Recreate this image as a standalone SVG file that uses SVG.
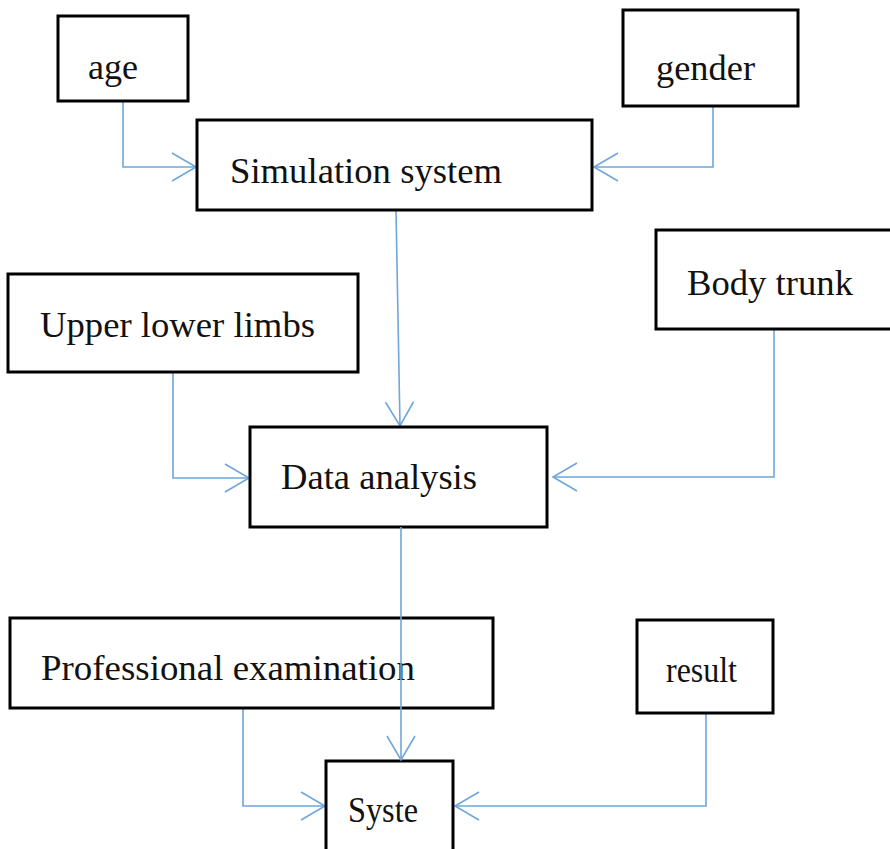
<svg xmlns="http://www.w3.org/2000/svg" width="890" height="849" viewBox="0 0 890 849">
<style>
.box{fill:#fff;stroke:#000;stroke-width:3}
.lbl{font-family:"Liberation Serif","Times New Roman",serif;font-size:36px;fill:#111}
.con{fill:none;stroke:#6FA6DB;stroke-width:1.6}
</style>
<defs>
<marker id="arr" markerUnits="userSpaceOnUse" markerWidth="30" markerHeight="32" viewBox="-26 -16 28 32" refX="0" refY="0" orient="auto">
<path d="M-24,-14 L0,0 L-24,14" fill="none" stroke="#6FA6DB" stroke-width="1.6"/>
</marker>
</defs>
<rect width="890" height="849" fill="#fff"/>
<g id="connectors">
<path class="con" d="M123,101 V167 H196" marker-end="url(#arr)"/>
<path class="con" d="M713,106 V167 H594" marker-end="url(#arr)"/>
<path class="con" d="M396,210 L400,426" marker-end="url(#arr)"/>
<path class="con" d="M173,372 V478 H249" marker-end="url(#arr)"/>
<path class="con" d="M774,329 V477 H553" marker-end="url(#arr)"/>
<path class="con" d="M243,708 V806 H325" marker-end="url(#arr)"/>
<path class="con" d="M706,713 V806 H455" marker-end="url(#arr)"/>
</g>
<g id="age"><rect class="box" x="58" y="16" width="130" height="85"/><text class="lbl" x="88" y="79" textLength="50" lengthAdjust="spacingAndGlyphs">age</text></g>
<g id="gender"><rect class="box" x="623" y="10" width="175" height="96"/><text class="lbl" x="656" y="80" textLength="99" lengthAdjust="spacingAndGlyphs">gender</text></g>
<g id="simulation"><rect class="box" x="197" y="120" width="395" height="90"/><text class="lbl" x="230" y="183" textLength="272" lengthAdjust="spacingAndGlyphs">Simulation system</text></g>
<g id="upper"><rect class="box" x="8" y="274" width="350" height="98"/><text class="lbl" x="40" y="337" textLength="275" lengthAdjust="spacingAndGlyphs">Upper lower limbs</text></g>
<g id="body"><rect class="box" x="656" y="230" width="236" height="99"/><text class="lbl" x="687" y="295" textLength="166" lengthAdjust="spacingAndGlyphs">Body trunk</text></g>
<g id="data"><rect class="box" x="250" y="427" width="297" height="100"/><text class="lbl" x="281" y="489" textLength="196" lengthAdjust="spacingAndGlyphs">Data analysis</text></g>
<g id="prof"><rect class="box" x="10" y="618" width="483" height="90"/><text class="lbl" x="41" y="680" textLength="374" lengthAdjust="spacingAndGlyphs">Professional examination</text></g>
<g id="result"><rect class="box" x="637" y="620" width="136" height="93"/><text class="lbl" x="666" y="682" textLength="71" lengthAdjust="spacingAndGlyphs">result</text></g>
<g id="syste"><rect class="box" x="326" y="761" width="127" height="100"/><text class="lbl" x="348" y="822" textLength="70" lengthAdjust="spacingAndGlyphs">Syste</text></g>
<path class="con" d="M401,527 V760" marker-end="url(#arr)"/>
</svg>
